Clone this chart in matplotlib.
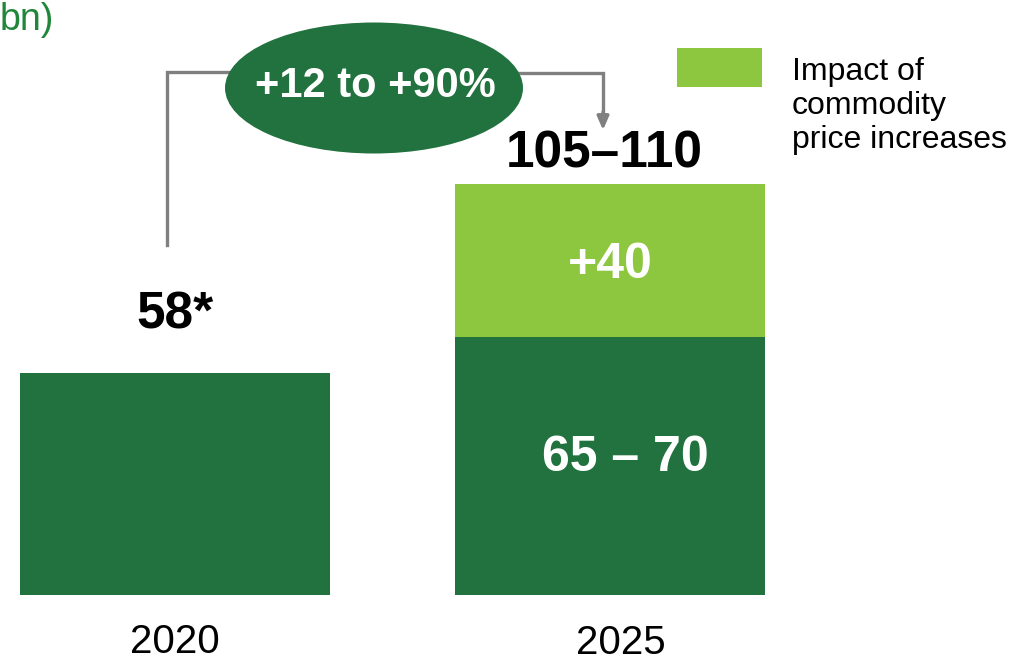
import matplotlib
matplotlib.use("Agg")
import matplotlib.pyplot as plt
from matplotlib.patches import Ellipse, Rectangle
from matplotlib.transforms import ScaledTranslation

plt.rcParams['font.family'] = ['Liberation Sans', 'DejaVu Sans']

# Data (EUR bn)
years = ["2020", "2025"]
base_values = [58, 67.5]          # 2025 base: 65–70 range midpoint
commodity_impact = [0, 40]        # impact of commodity price increases
base_labels = ["", "65 – 70"]
total_labels = ["58*", "105–110"]
impact_labels = ["", "+40"]
growth_label = "+12 to +90%"
legend_label = "Impact of\ncommodity\nprice increases"
unit_label = "bn)"

DARK = "#21723E"
LIGHT = "#8DC63F"
GREY = "#808080"

W, H = 1010, 662
fig = plt.figure(figsize=(W / 100, H / 100), dpi=100)

# Bar axes: baseline at pixel row 595
base_px = 595
px_per_unit = 3.82
ax = fig.add_axes([0, (H - base_px) / H, 1, base_px / H])
ax.set_ylim(0, base_px / px_per_unit)
spacing = 435.0
ax.set_xlim(-175 / spacing, (W - 175) / spacing)
bar_w = 310 / spacing
x = list(range(len(years)))

ax.bar(x, base_values, width=bar_w, color=DARK, linewidth=0)
ax.bar(x, commodity_impact, bottom=base_values, width=bar_w, color=LIGHT, linewidth=0)

for s in ax.spines.values():
    s.set_visible(False)
ax.set_yticks([])
ax.set_xticks(x, years)
ax.tick_params(axis='x', length=0, pad=20, labelsize=29)
# the 2025 label sits a little right of and below its bar centre
shifts = [(0, 0), (11, -1)]
for lbl, (dx, dy) in zip(ax.get_xticklabels(), shifts):
    lbl.set_transform(lbl.get_transform() + ScaledTranslation(dx / 100, dy / 100, fig.dpi_scale_trans))

# Value labels
label_offsets = [(0, 42), (-4, 22)]
for i in x:
    top = base_values[i] + commodity_impact[i]
    ax.annotate(total_labels[i], (i, top), xytext=label_offsets[i], textcoords='offset points',
                ha='center', va='center', fontsize=37, fontweight='bold', color='black')
    if base_labels[i]:
        ax.annotate(base_labels[i], (i, base_values[i] / 2), xytext=(11, 6),
                    textcoords='offset points', ha='center', va='center',
                    fontsize=36, fontweight='bold', color='white')
    if impact_labels[i]:
        ax.annotate(impact_labels[i], (i, base_values[i] + commodity_impact[i] / 2),
                    xytext=(0, -3), textcoords='offset points', ha='center', va='center',
                    fontsize=36, fontweight='bold', color='white')

# Overlay in pixel coordinates for the growth bubble, connectors and legend
ov = fig.add_axes([0, 0, 1, 1], facecolor='none')
ov.set_xlim(0, W)
ov.set_ylim(H, 0)
ov.axis('off')

ov.plot([167, 167, 240], [245, 72, 72], color=GREY, lw=2.4, solid_joinstyle='miter', zorder=2)
ov.plot([510, 603, 603], [73, 73, 116], color=GREY, lw=2.4, solid_joinstyle='miter', zorder=2)
ov.annotate('', xy=(603, 130), xytext=(603, 112),
            arrowprops=dict(arrowstyle='-|>,head_length=0.8,head_width=0.35',
                            color=GREY, lw=2.4, shrinkA=0, shrinkB=0), zorder=2)

ov.add_patch(Ellipse((374, 88), 298, 131, facecolor=DARK, edgecolor='none', zorder=3))
ov.text(375, 86, growth_label, ha='center', va='center', fontsize=30,
        fontweight='bold', color='white', zorder=4)

ov.add_patch(Rectangle((677, 48), 85, 39, facecolor=LIGHT, edgecolor='none'))
ov.text(792, 57, legend_label, ha='left', va='top', fontsize=23,
        linespacing=1.17, color='black')

ov.text(0, 2, unit_label, ha='left', va='top', fontsize=27, color='#22863A')

fig.savefig("out.png", dpi=100)
